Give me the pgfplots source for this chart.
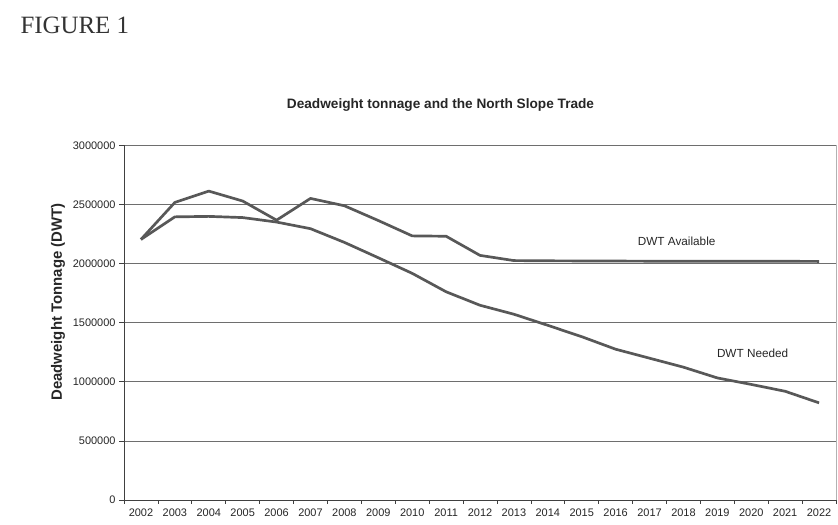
\documentclass[border=0pt]{standalone}
\usepackage{pgfplots}
\pgfplotsset{compat=1.18}
\usepackage{fontspec}
\setmainfont{Liberation Sans}
\newfontfamily\serif{Liberation Serif}

\definecolor{lineclr}{HTML}{585858}
\definecolor{gridclr}{HTML}{6E6E6E}

\begin{document}
\begin{tikzpicture}[x=1bp,y=1bp]
\path[use as bounding box] (0,0) rectangle (838,525);

\node[anchor=west, font=\serif\fontsize{25}{28}\selectfont, text=black!80] at (17,500) {FIGURE 1};
\node[font=\bfseries\fontsize{13.7}{16}\selectfont, text=black!85] at (440.5,420) {Deadweight tonnage and the North Slope Trade};
\node[rotate=90, font=\bfseries\fontsize{15}{18}\selectfont, text=black!85] at (58,223) {Deadweight Tonnage (DWT)};

\begin{axis}[
    at={(124bp,25bp)}, anchor=south west,
    scale only axis,
    width=712bp, height=354.5bp,
    xmin=-0.5, xmax=20.5,
    ymin=0, ymax=3000000,
    axis x line*=bottom,
    axis y line*=left,
    axis line style={black!75, line width=0.9pt},
    tick align=outside,
    xtick={0,...,20},
    xticklabels={2002,2003,2004,2005,2006,2007,2008,2009,2010,2011,2012,2013,2014,2015,2016,2017,2018,2019,2020,2021,2022},
    major x tick style={draw=none},
    minor xtick={-0.5,0.5,...,20.5},
    minor tick length=4bp,
    minor x tick style={black!75, line width=0.7pt},
    ytick={0,500000,...,3000000},
    major tick length=5bp,
    y tick style={black!75, line width=0.7pt},
    scaled y ticks=false,
    yticklabel style={/pgf/number format/fixed, /pgf/number format/1000 sep={}},
    /pgf/number format/assume math mode=true,
    tick label style={font=\fontsize{11}{13}\selectfont, text=black!85},
    ymajorgrids,
    major grid style={gridclr, line width=0.8pt},
    clip=false,
]
% DWT Available
\addplot[lineclr, line width=2.7pt, line join=round] coordinates {
  (0,2205000) (1,2518000) (2,2614000) (3,2530000) (4,2368000)
  (5,2552000) (6,2490000) (7,2365000) (8,2235000) (9,2232000)
  (10,2070000) (11,2026000) (12,2024000) (13,2023000) (14,2022000)
  (15,2021000) (16,2021000) (17,2020000) (18,2020000) (19,2020000)
  (20,2019000)
};
% DWT Needed
\addplot[lineclr, line width=2.7pt, line join=round] coordinates {
  (0,2205000) (1,2396000) (2,2400000) (3,2390000) (4,2352000)
  (5,2296000) (6,2180000) (7,2050000) (8,1918000) (9,1762000)
  (10,1648000) (11,1572000) (12,1478000) (13,1382000) (14,1276000)
  (15,1200000) (16,1124000) (17,1033000) (18,978000) (19,920000)
  (20,822000)
};
\draw[black!30, line width=0.6pt] (rel axis cs:1,0) -- (rel axis cs:1,1);
\node[font=\fontsize{11.8}{14}\selectfont, text=black!85] at (axis cs:15.8,2190000) {DWT Available};
\node[font=\fontsize{11.8}{14}\selectfont, text=black!85] at (axis cs:18.04,1242000) {DWT Needed};
\end{axis}
\end{tikzpicture}
\end{document}
